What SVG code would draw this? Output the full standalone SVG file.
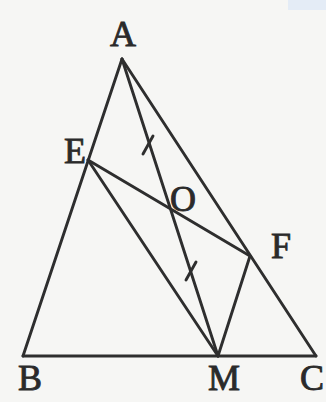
<svg xmlns="http://www.w3.org/2000/svg" width="326" height="402" viewBox="0 0 326 402">
<style>
.l{stroke:#2e2e2e;stroke-width:2.9;stroke-linecap:round;fill:none}
.t{font-family:"Liberation Serif","Times New Roman","DejaVu Serif",serif;font-size:36px;fill:#2a2a2a;stroke:#2a2a2a;stroke-width:0.9}
</style>
<rect width="326" height="402" fill="#f6f6f4"/>
<rect x="288" y="0" width="38" height="10" fill="#e4ecf6"/>
<g id="connectors">
<line class="l" x1="122" y1="59" x2="23" y2="356"/>
<line class="l" x1="122" y1="59" x2="316" y2="356"/>
<line class="l" x1="23" y1="356" x2="316" y2="356"/>
<line class="l" x1="122" y1="59" x2="218" y2="356"/>
<line class="l" x1="88" y1="160" x2="250" y2="256"/>
<line class="l" x1="88" y1="160" x2="218" y2="356"/>
<line class="l" x1="250" y1="256" x2="218" y2="356"/>
<line class="l" x1="143" y1="154" x2="153" y2="136" stroke-width="2.4"/>
<line class="l" x1="186" y1="280" x2="196" y2="262" stroke-width="2.4"/>
</g>
<g id="A"><text class="t" x="123" y="46" text-anchor="middle">A</text></g>
<g id="E"><text class="t" x="75" y="163" text-anchor="middle">E</text></g>
<g id="O"><text class="t" x="183" y="211" text-anchor="middle">O</text></g>
<g id="F"><text class="t" x="281" y="258" text-anchor="middle">F</text></g>
<g id="B"><text class="t" x="30" y="390" text-anchor="middle">B</text></g>
<g id="M"><text class="t" x="224" y="390" text-anchor="middle">M</text></g>
<g id="C"><text class="t" x="312" y="390" text-anchor="middle">C</text></g>
</svg>
